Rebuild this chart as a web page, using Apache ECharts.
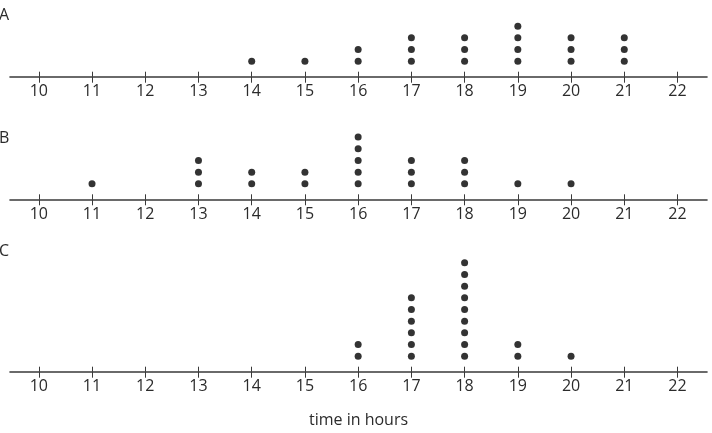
<!DOCTYPE html>
<html>
<head>
<meta charset="utf-8">
<script src="https://cdn.jsdelivr.net/npm/echarts@6/dist/echarts.min.js"></script>
<style>
html,body{margin:0;padding:0;background:#fff;}
#c{width:712px;height:433px;}
</style>
</head>
<body>
<div id="c"></div>
<script>
// Data
const hours = [10, 11, 12, 13, 14, 15, 16, 17, 18, 19, 20, 21, 22];
const countsA = [0, 0, 0, 0, 1, 1, 2, 3, 3, 4, 3, 3, 0];
const countsB = [0, 1, 0, 3, 2, 2, 5, 3, 3, 1, 1, 0, 0];
const countsC = [0, 0, 0, 0, 0, 0, 2, 6, 9, 2, 1, 0, 0];
const plotNames = ['A', 'B', 'C'];
const axisTitle = 'time in hours';

const allCounts = [countsA, countsB, countsC];
const FONT = '"Open Sans", "Noto Sans", sans-serif';
const TXT = '#2b2b2b';
const LINE = '#3a3a3a';
const DOT_STEP = 11.67;   // px between stacked dots
const FIRST = 15.5;       // px from axis to first dot
// grid layout [top, height] -> axis line at top+height
const grids = [[10, 66.7], [130, 69.3], [250, 121.7]];
const XMIN = 9.459, XMAX = 22.554;

function pointsFrom(counts) {
  const pts = [];
  hours.forEach((h, i) => {
    for (let k = 1; k <= counts[i]; k++) pts.push([h, k]);
  });
  return pts;
}

const gridOpt = [], xAxes = [], yAxes = [], series = [];
grids.forEach((g, i) => {
  gridOpt.push({ left: 10, width: 697, top: g[0], height: g[1], containLabel: false, outerBoundsMode: 'none' });
  const ymin = 1 - FIRST / DOT_STEP;
  const ymax = ymin + g[1] / DOT_STEP;
  xAxes.push({
    type: 'value', gridIndex: i, min: XMIN, max: XMAX, position: 'bottom',
    splitLine: { show: false },
    axisLine: { show: true, onZero: false, lineStyle: { color: LINE, width: 1.6 } },
    axisTick: { show: true, length: 6, inside: false, customValues: hours, lineStyle: { color: LINE, width: 1 } },
    axisLabel: { show: true, customValues: hours, margin: 7, color: TXT, fontSize: 16, fontFamily: FONT }
  });
  xAxes.push({
    type: 'value', gridIndex: i, min: XMIN, max: XMAX, position: 'bottom',
    splitLine: { show: false },
    axisLine: { show: false, onZero: false },
    axisTick: { show: true, length: 5, inside: true, customValues: hours, lineStyle: { color: LINE, width: 1 } },
    axisLabel: { show: false }
  });
  yAxes.push({ type: 'value', gridIndex: i, min: ymin, max: ymax, show: false });
  series.push({
    type: 'scatter', xAxisIndex: i * 2, yAxisIndex: i,
    symbol: 'circle', symbolSize: 7,
    itemStyle: { color: '#000' },
    data: pointsFrom(allCounts[i]),
    silent: true
  });
});

const labelY = [16.5, 139.5, 252.5];
const graphics = plotNames.map((n, i) => ({
  type: 'text', left: -1, top: labelY[i] - 9,
  style: { text: n, fontSize: 16, fontFamily: FONT, fill: TXT }
}));
graphics.push({
  type: 'text', x: 358.5, y: 420,
  style: { text: axisTitle, fontSize: 16, fontFamily: FONT, fill: TXT, textAlign: 'center', textVerticalAlign: 'middle' }
});

const chart = echarts.init(document.getElementById('c'), null, { renderer: 'canvas' });
chart.setOption({
  animation: false,
  backgroundColor: '#fff',
  grid: gridOpt,
  xAxis: xAxes,
  yAxis: yAxes,
  series: series,
  graphic: graphics
});
</script>
</body>
</html>
